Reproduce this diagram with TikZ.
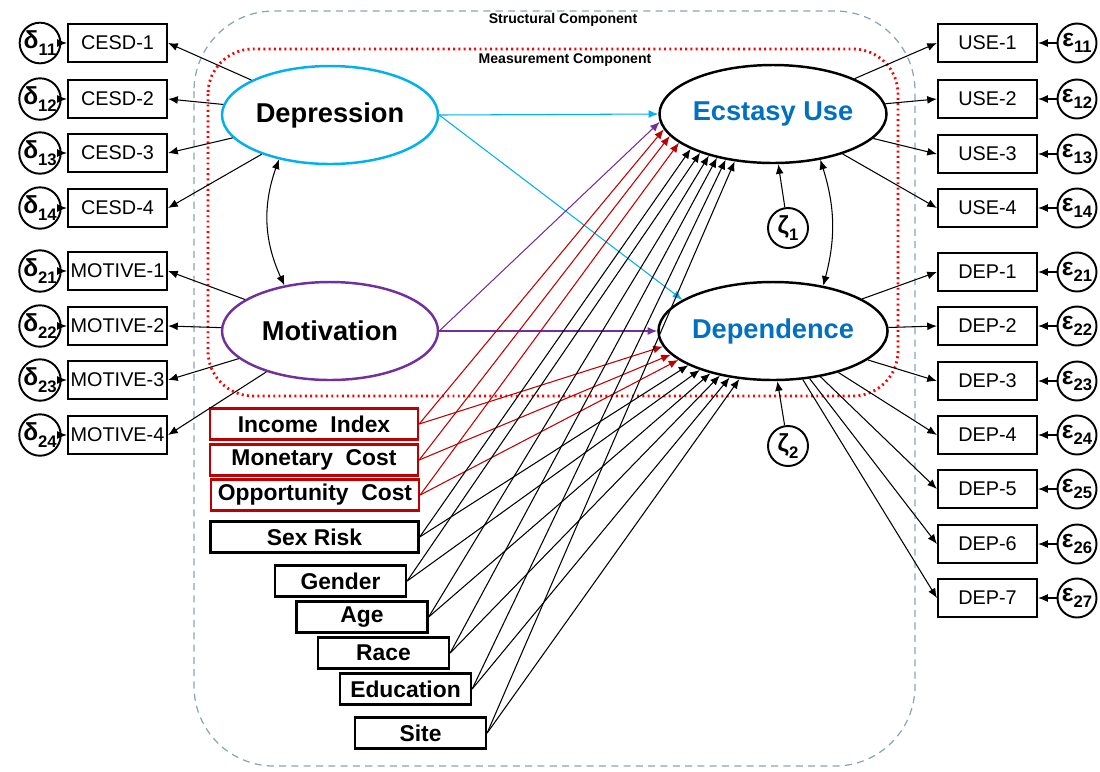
\documentclass[tikz,border=0pt]{standalone}
\usepackage{fontspec}
\setmainfont{Liberation Sans}
\usetikzlibrary{shapes,arrows.meta,positioning}
\definecolor{depblue}{RGB}{0,176,240}
\definecolor{motpurple}{RGB}{112,48,160}
\definecolor{latblue}{RGB}{0,112,192}
\definecolor{costred}{RGB}{192,0,0}
\definecolor{structgray}{RGB}{140,165,172}
\newcommand{\errlab}[2]{\textbf{#1}\raisebox{-0.5ex}{\fontsize{9.5}{9.5}\selectfont\bfseries #2}}

\begin{document}
\begin{tikzpicture}[x=0.2mm, y=-0.2mm, >={Latex[length=5.5pt,width=4.5pt]},
    item/.style={draw, line width=1.25pt, minimum width=1.98cm, minimum height=0.76cm, inner sep=0pt, font=\fontsize{11.3}{13}\selectfont},
    errc/.style={draw, circle, line width=1.1pt, minimum size=0.74cm, inner sep=0pt, font=\fontsize{14}{14}\selectfont},
    latent/.style={draw, ellipse, fill=white, line width=1.4pt, minimum width=4.32cm, minimum height=1.96cm, inner sep=0pt, font=\fontsize{15.5}{17}\selectfont\bfseries},
    covar/.style={draw, fill=white, line width=1.3pt, minimum height=0.62cm, inner sep=0pt, font=\fontsize{13}{15}\selectfont\bfseries},
    link/.style={->, line width=0.6pt}
]
    \useasboundingbox (0,0) rectangle (1100,771);

    % Component frames
    \draw[structgray, line width=0.7pt, dash pattern=on 4pt off 3pt, rounded corners=1.6cm] (194,11) rectangle (915,766);
    \draw[red, line width=1.6pt, dash pattern=on 1.1pt off 1.9pt, rounded corners=0.9cm] (208,49) rectangle (898,396);
    \node[font=\fontsize{8}{9}\selectfont\bfseries] (structlab) at (563,20) {Structural Component};
    \node[font=\fontsize{8}{9}\selectfont\bfseries] (measlab) at (565,60) {Measurement Component};

    % Latent variables
    \node[latent, draw=depblue] (depr) at (330,115) {Depression};
    \node[latent, draw=motpurple] (motiv) at (330,331) {Motivation};
    \node[latent, text=latblue] (ecst) at (773,114) {Ecstasy Use};
    \node[latent, text=latblue] (depend) at (773,331) {Dependence};

    % Left indicators
    \node[item] (cesd1) at (117.5,43) {CESD-1};
    \node[item] (cesd2) at (117.5,99) {CESD-2};
    \node[item] (cesd3) at (117.5,153) {CESD-3};
    \node[item] (cesd4) at (117.5,208) {CESD-4};
    \node[item] (mot1) at (117.5,271) {MOTIVE-1};
    \node[item] (mot2) at (117.5,326) {MOTIVE-2};
    \node[item] (mot3) at (117.5,380) {MOTIVE-3};
    \node[item] (mot4) at (117.5,435) {MOTIVE-4};
    \node[errc] (d11) at (40,43) {\errlab{δ}{11}};
    \node[errc] (d12) at (40,99) {\errlab{δ}{12}};
    \node[errc] (d13) at (40,153) {\errlab{δ}{13}};
    \node[errc] (d14) at (40,208) {\errlab{δ}{14}};
    \node[errc] (d21) at (40,271) {\errlab{δ}{21}};
    \node[errc] (d22) at (40,326) {\errlab{δ}{22}};
    \node[errc] (d23) at (40,380) {\errlab{δ}{23}};
    \node[errc] (d24) at (40,435) {\errlab{δ}{24}};

    % Right indicators
    \node[item] (use1) at (987.5,43) {USE-1};
    \node[item] (use2) at (987.5,99) {USE-2};
    \node[item] (use3) at (987.5,154) {USE-3};
    \node[item] (use4) at (987.5,208) {USE-4};
    \node[item] (dep1) at (987.5,272) {DEP-1};
    \node[item] (dep2) at (987.5,326) {DEP-2};
    \node[item] (dep3) at (987.5,381) {DEP-3};
    \node[item] (dep4) at (987.5,435) {DEP-4};
    \node[item] (dep5) at (987.5,489) {DEP-5};
    \node[item] (dep6) at (987.5,544) {DEP-6};
    \node[item] (dep7) at (987.5,598) {DEP-7};
    \node[errc, minimum size=0.78cm] (e11) at (1077,43) {\errlab{ε}{11}};
    \node[errc, minimum size=0.78cm] (e12) at (1077,99) {\errlab{ε}{12}};
    \node[errc, minimum size=0.78cm] (e13) at (1077,154) {\errlab{ε}{13}};
    \node[errc, minimum size=0.78cm] (e14) at (1077,208) {\errlab{ε}{14}};
    \node[errc, minimum size=0.78cm] (e21) at (1077,272) {\errlab{ε}{21}};
    \node[errc, minimum size=0.78cm] (e22) at (1077,326) {\errlab{ε}{22}};
    \node[errc, minimum size=0.78cm] (e23) at (1077,381) {\errlab{ε}{23}};
    \node[errc, minimum size=0.78cm] (e24) at (1077,435) {\errlab{ε}{24}};
    \node[errc, minimum size=0.78cm] (e25) at (1077,489) {\errlab{ε}{25}};
    \node[errc, minimum size=0.78cm] (e26) at (1077,544) {\errlab{ε}{26}};
    \node[errc, minimum size=0.78cm] (e27) at (1077,598) {\errlab{ε}{27}};

    % Disturbances
    \node[errc, minimum size=0.8cm] (z1) at (788,228) {\errlab{ζ}{1}};
    \node[errc, minimum size=0.8cm] (z2) at (788,446) {\errlab{ζ}{2}};

    % Covariates
    \node[covar, draw=costred, minimum width=4.16cm] (inc) at (314,424) {Income\ \ Index};
    \node[covar, draw=costred, minimum width=4.16cm] (mon) at (314,460) {Monetary\ \ Cost};
    \node[covar, draw=costred, minimum width=4.16cm] (opp) at (315,495) {Opportunity\ \ Cost};
    \node[covar, minimum width=4.16cm] (sex) at (314.5,537) {Sex Risk};
    \node[covar, minimum width=2.62cm] (gen) at (340.5,581) {Gender};
    \node[covar, minimum width=2.62cm] (age) at (362,617) {Age};
    \node[covar, minimum width=2.62cm] (race) at (383.5,653) {Race};
    \node[covar, minimum width=2.62cm] (edu) at (405.5,689) {Education};
    \node[covar, minimum width=2.62cm] (site) at (420.5,733) {Site};

    % Measurement paths
    \foreach \i in {1,...,4} {
        \draw[link] (depr) -- (cesd\i.east);
        \draw[link] (motiv) -- (mot\i.east);
        \draw[link] (ecst) -- (use\i.west);
    }
    \foreach \i in {1,...,7} \draw[link] (depend) -- (dep\i.west);
    \draw[link] (d11) -- (cesd1); \draw[link] (d12) -- (cesd2);
    \draw[link] (d13) -- (cesd3); \draw[link] (d14) -- (cesd4);
    \draw[link] (d21) -- (mot1); \draw[link] (d22) -- (mot2);
    \draw[link] (d23) -- (mot3); \draw[link] (d24) -- (mot4);
    \draw[link] (e11) -- (use1); \draw[link] (e12) -- (use2);
    \draw[link] (e13) -- (use3); \draw[link] (e14) -- (use4);
    \draw[link] (e21) -- (dep1); \draw[link] (e22) -- (dep2);
    \draw[link] (e23) -- (dep3); \draw[link] (e24) -- (dep4);
    \draw[link] (e25) -- (dep5); \draw[link] (e26) -- (dep6);
    \draw[link] (e27) -- (dep7);

    % Structural paths
    \draw[link, depblue] (depr.east) -- (ecst.west);
    \draw[link, depblue] (depr.east) -- (depend.161);
    \draw[link, motpurple] (motiv.east) -- (ecst.184);
    \draw[link, motpurple] (motiv.east) -- (depend.west);
    \draw[<->, line width=0.6pt] (depr.221) to[bend right=22] (motiv.135);
    \draw[<->, line width=0.6pt] (ecst.316) to[bend left=16] (depend.42);
    \draw[link] (z1) -- (ecst.276);
    \draw[link] (z2) -- (depend.275);

    % Covariate paths
    \foreach \cv/\ea/\da/\col in {inc/188/188/costred, mon/192/193/costred, opp/197/197/costred,
        sex/203/202/black, gen/208/208/black, age/213/214/black, race/218/220/black,
        edu/224/227/black, site/231/235/black} {
        \draw[link, \col] (\cv.east) -- (ecst.\ea);
        \draw[link, \col] (\cv.east) -- (depend.\da);
    }
\end{tikzpicture}
\end{document}
